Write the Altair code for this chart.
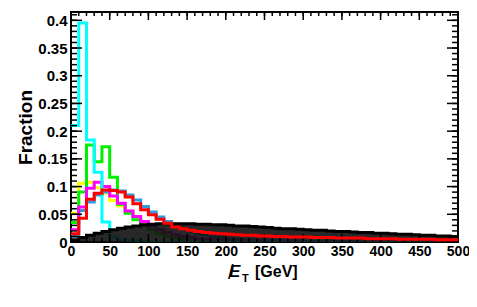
import altair as alt
import pandas as pd

# bin lower edges (GeV), 10 GeV bins from 0 to 500
edges = list(range(0, 500, 10))

cyan = [0.21, 0.395, 0.184, 0.126, 0.036, 0.009, 0.005, 0.003, 0.002, 0.001] + [0.0] * 40
green = [0.035, 0.09, 0.175, 0.145, 0.172, 0.117, 0.068, 0.052, 0.04, 0.03,
         0.022, 0.015, 0.01, 0.007, 0.005, 0.004, 0.003, 0.002, 0.002, 0.001] + [0.001] * 10 + [0.0] * 20
yellow = [0.052, 0.106, 0.108, 0.098, 0.088, 0.075, 0.065, 0.055, 0.045, 0.036,
          0.028, 0.021, 0.016, 0.012, 0.009, 0.007, 0.005, 0.004, 0.003, 0.002] + [0.001] * 10 + [0.0] * 20
magenta = [0.022, 0.063, 0.097, 0.108, 0.1, 0.083, 0.07, 0.056, 0.046, 0.037,
           0.029, 0.022, 0.017, 0.013, 0.01, 0.008, 0.006, 0.005, 0.004, 0.003] + [0.002] * 10 + [0.001] * 20
blue = [0.01, 0.057, 0.072, 0.085, 0.09, 0.094, 0.092, 0.085, 0.076, 0.064,
        0.054, 0.045, 0.037, 0.03, 0.025, 0.02, 0.016, 0.013, 0.01, 0.008,
        0.006, 0.005, 0.004, 0.003, 0.003, 0.002, 0.002, 0.002, 0.001, 0.001] + [0.001] * 20
red = [0.015, 0.043, 0.077, 0.088, 0.094, 0.093, 0.09, 0.081, 0.069, 0.058,
       0.049, 0.041, 0.034, 0.027, 0.024, 0.021, 0.019, 0.017, 0.016, 0.015,
       0.014, 0.013, 0.012, 0.012, 0.011, 0.011, 0.010, 0.010, 0.009, 0.009,
       0.009, 0.008, 0.008, 0.008, 0.007, 0.007, 0.007, 0.007, 0.006, 0.006,
       0.006, 0.006, 0.005, 0.005, 0.005, 0.005, 0.005, 0.004, 0.004, 0.004]
black = [0.004, 0.008, 0.012, 0.016, 0.019, 0.022, 0.025, 0.027, 0.029, 0.031,
         0.032, 0.033, 0.033, 0.033, 0.033, 0.033, 0.032, 0.032, 0.031, 0.031,
         0.030, 0.029, 0.029, 0.028, 0.027, 0.026, 0.025, 0.024, 0.024, 0.023,
         0.022, 0.021, 0.021, 0.020, 0.019, 0.019, 0.018, 0.017, 0.017, 0.016,
         0.016, 0.015, 0.014, 0.014, 0.013, 0.012, 0.012, 0.011, 0.011, 0.010]

y_major = [0, 0.05, 0.1, 0.15, 0.2, 0.25, 0.3, 0.35, 0.4]
y_minor = [round(i * 0.01, 2) for i in range(0, 42)]
x_major = [0, 50, 100, 150, 200, 250, 300, 350, 400, 450, 500]
x_minor = list(range(0, 501, 10))

W, H = 387, 230
FONT = "Liberation Sans"

def step_df(vals):
    xs = edges + [500]
    ys = vals + [vals[-1]]
    return pd.DataFrame({"x": xs, "y": ys})

xscale = alt.Scale(domain=[0, 500], nice=False, zero=False)
yscale = alt.Scale(domain=[0, 0.415], nice=False, zero=True)
xaxis = alt.Axis(values=x_major, title=None, labelFontSize=14, labelFont=FONT,
                 labelFontWeight="bold", labelPadding=2, labelColor="black",
                 ticks=False, domain=False, grid=False, labelFlush=False)
yaxis = alt.Axis(values=y_major, title="Fraction", labelExpr="format(datum.value, '~g')",
                 labelFontSize=15, labelFont=FONT, labelFontWeight="bold", labelPadding=4,
                 labelColor="black", titleFontSize=19, titleFont=FONT, titleFontWeight="bold",
                 titleColor="black", titlePadding=2, ticks=False, domain=False, grid=False)

X = alt.X("x:Q", scale=xscale, axis=xaxis)
Y = alt.Y("y:Q", scale=yscale, axis=yaxis)

def hist_line(vals, color):
    return alt.Chart(step_df(vals)).mark_line(
        interpolate="step-after", color=color, strokeWidth=3, clip=True
    ).encode(x=X, y=Y)

black_area = alt.Chart(step_df(black)).mark_area(
    interpolate="step-after", color="#111111", opacity=0.9, clip=True
).encode(x=X, y=Y)
black_line = hist_line(black, "black")

layers = [hist_line(yellow, "#ffff00"),
          hist_line(blue, "#3399dd"),
          hist_line(green, "#00ee00"),
          hist_line(magenta, "#ff00ff"),
          hist_line(cyan, "#00ffff"),
          black_area, black_line]

# inward ticks (ROOT style) on all four sides
ymaj = pd.DataFrame({"y": y_major})
ymin = pd.DataFrame({"y": y_minor})
xmaj = pd.DataFrame({"x": x_major})
xmin = pd.DataFrame({"x": x_minor})
tk = dict(color="black", strokeWidth=1.5)
layers += [
    alt.Chart(ymaj).mark_rule(**tk).encode(y=Y, x=alt.value(0), x2=alt.value(11)),
    alt.Chart(ymin).mark_rule(**tk).encode(y=Y, x=alt.value(0), x2=alt.value(6)),
    alt.Chart(ymaj).mark_rule(**tk).encode(y=Y, x=alt.value(W - 11), x2=alt.value(W)),
    alt.Chart(ymin).mark_rule(**tk).encode(y=Y, x=alt.value(W - 6), x2=alt.value(W)),
    alt.Chart(xmaj).mark_rule(**tk).encode(x=X, y=alt.value(H), y2=alt.value(H - 8)),
    alt.Chart(xmin).mark_rule(**tk).encode(x=X, y=alt.value(H), y2=alt.value(H - 4)),
    alt.Chart(xmaj).mark_rule(**tk).encode(x=X, y=alt.value(0), y2=alt.value(8)),
    alt.Chart(xmin).mark_rule(**tk).encode(x=X, y=alt.value(0), y2=alt.value(4)),
]

# red histogram drawn last so its low tail stays a solid line
layers.append(hist_line(red, "#ff0000"))

# x-axis title: missing E_T [GeV]
t_e = pd.DataFrame({"t": ["E"]})
t_sl = pd.DataFrame({"t": ["/"]})
t_T = pd.DataFrame({"t": ["T"]})
t_g = pd.DataFrame({"t": ["[GeV]"]})
layers += [
    alt.Chart(t_e).mark_text(font=FONT, fontSize=17, fontStyle="italic", fontWeight="bold",
                             align="left", baseline="alphabetic", color="black")
    .encode(text="t:N", x=alt.value(158), y=alt.value(265)),
    alt.Chart(t_sl).mark_text(font=FONT, fontSize=20, fontWeight="normal",
                              align="left", baseline="alphabetic", color="black")
    .encode(text="t:N", x=alt.value(157), y=alt.value(267)),
    alt.Chart(t_T).mark_text(font=FONT, fontSize=11, fontWeight="bold",
                             align="left", baseline="alphabetic", color="black")
    .encode(text="t:N", x=alt.value(171), y=alt.value(270)),
    alt.Chart(t_g).mark_text(font=FONT, fontSize=16, fontWeight="bold",
                             align="left", baseline="alphabetic", color="black")
    .encode(text="t:N", x=alt.value(184), y=alt.value(265)),
]

chart = alt.layer(*layers).properties(
    width=W, height=H, autosize="none",
    padding={"left": 63, "top": 4, "right": 11, "bottom": 57},
    background="white"
).configure_view(stroke="black", strokeWidth=2)

chart.save("out.html", embed_options={"renderer": "svg", "actions": False})
